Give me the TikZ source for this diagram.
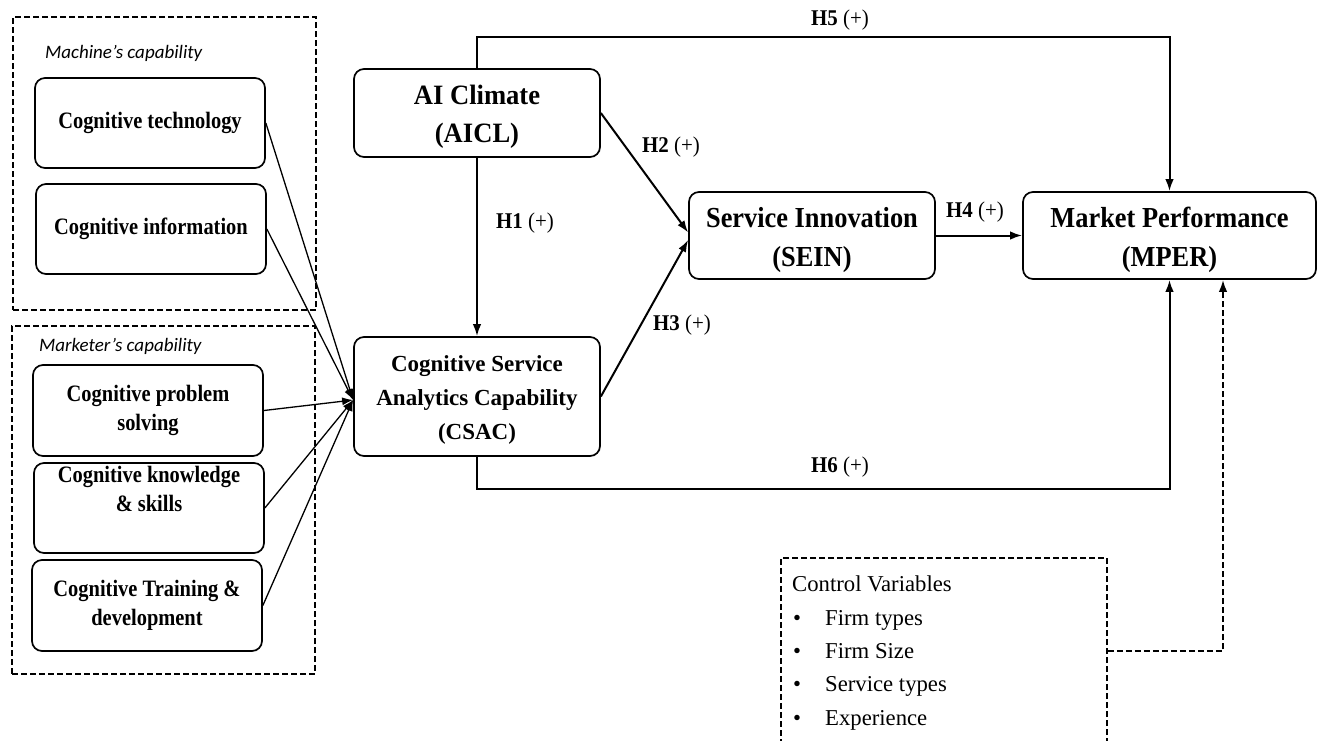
\documentclass[tikz,border=0pt]{standalone}
\usepackage{fontspec}
\setmainfont{Liberation Serif}
\newfontfamily\leftfont[FakeStretch=0.87]{Liberation Serif}
\newfontfamily\bigfont[FakeStretch=0.91]{Liberation Serif}
\newfontfamily\aiclfont[FakeStretch=0.95]{Liberation Serif}
\newfontfamily\hfont[FakeStretch=0.93]{Liberation Serif}
\newfontfamily\capfont{Carlito}
\usetikzlibrary{arrows.meta}
\begin{document}
\begin{tikzpicture}[x=1pt,y=-1pt,
  rbox/.style={draw, rounded corners=10pt, line width=1.7pt, inner sep=0pt, align=center},
  txt/.style={inner sep=0pt, align=center},
  leftbox/.style={rbox, minimum width=230pt, minimum height=90pt, font=\leftfont\bfseries\fontsize{23.5}{29.5}\selectfont},
  grpbox/.style={draw, line width=1.9pt, dash pattern=on 6pt off 3pt, inner sep=0pt},
  conn/.style={line width=2pt, -{Latex[length=12pt,width=8.5pt]}},
  fanline/.style={line width=1.3pt, -{Latex[length=11pt,width=8pt]}},
  hlab/.style={font=\hfont\fontsize{22.5}{25}\selectfont, inner sep=0pt},
  grplab/.style={font=\capfont\itshape\fontsize{19}{23}\selectfont, anchor=base west, inner sep=0pt}
]
\path[use as bounding box, clip] (0,0) rectangle (1325,740);
\fill[white] (0,0) rectangle (1325,740);

% group boxes
\node[grpbox, minimum width=303pt, minimum height=293pt] (mach) at (164.5,163.5) {};
\node[grplab] (machlab) at (45,58) {Machine’s capability};
\node[grpbox, minimum width=303pt, minimum height=348pt] (mark) at (163.5,500) {};
\node[grplab] (marklab) at (39,351) {Marketer’s capability};

% left boxes
\node[leftbox] (tech) at (150,123) {Cognitive technology};
\node[leftbox] (info) at (151,229) {Cognitive information};
\node[leftbox, minimum height=91pt] (prob) at (148,410.5) {Cognitive problem\\solving};
\node[leftbox] (know) at (149,508) {Cognitive knowledge\\\& skills\\\strut};
\node[leftbox, minimum height=91pt] (train) at (147,605.5) {Cognitive Training \&\\development};

% main constructs
\node[rbox, minimum width=246pt, minimum height=88pt] (aicl) at (477,113) {};
\node[txt, font=\aiclfont\bfseries\fontsize{28}{38}\selectfont] (aicltxt) at (477,117) {AI Climate\\(AICL)};
\node[rbox, minimum width=246pt, minimum height=119pt] (csac) at (477,396.5) {};
\node[txt, font=\bfseries\fontsize{23}{34}\selectfont] (csactxt) at (477,400) {Cognitive Service\\Analytics Capability\\(CSAC)};
\node[rbox, minimum width=246pt, minimum height=87pt] (sein) at (812,235.5) {};
\node[txt, font=\bigfont\bfseries\fontsize{29}{39}\selectfont] (seintxt) at (812,240) {Service Innovation\\(SEIN)};
\node[rbox, minimum width=293pt, minimum height=87pt] (mper) at (1169.5,235.5) {};
\node[txt, font=\bigfont\bfseries\fontsize{29}{39}\selectfont] (mpertxt) at (1169.5,240) {Market Performance\\(MPER)};

% control variables
\node[grpbox, minimum width=326pt, minimum height=202pt] (ctrl) at (944,659) {};
\node[anchor=north west, inner sep=0pt, align=left, font=\fontsize{22.7}{33.3}\selectfont] (ctrltxt) at (792,576)
  {Control Variables\\
   \makebox[33pt][l]{\hspace{1pt}\textbullet}Firm types\\
   \makebox[33pt][l]{\hspace{1pt}\textbullet}Firm Size\\
   \makebox[33pt][l]{\hspace{1pt}\textbullet}Service types\\
   \makebox[33pt][l]{\hspace{1pt}\textbullet}Experience};

% fan-in connectors
\coordinate (cin) at ([yshift=-3.5pt]csac.west);
\foreach \n in {tech,info,prob,know,train}
  \draw[fanline] (\n.east) -- (cin);

% hypotheses
\draw[conn] (aicl.south) -- (csac.north);
\draw[conn] (aicl.east) -- ([yshift=3pt]sein.west);
\draw[conn] (csac.east) -- ([yshift=-4.5pt]sein.west);
\draw[conn] (sein.east) -- (mper.west);
\draw[conn] (aicl.north) -- ++(0,-31) -| (mper.north);
\draw[conn] (csac.south) -- ++(0,32) -| (mper.south);
\draw[conn, dash pattern=on 6pt off 3pt] ([yshift=8pt]ctrl.east) -| ([xshift=53.5pt]mper.south);

% labels
\node[hlab] (h1) at (525,223) {\textbf{H1} (+)};
\node[hlab] (h2) at (671,147) {\textbf{H2} (+)};
\node[hlab] (h3) at (682,325) {\textbf{H3} (+)};
\node[hlab] (h4) at (975,212) {\textbf{H4} (+)};
\node[hlab] (h5) at (840,20) {\textbf{H5} (+)};
\node[hlab] (h6) at (840,467) {\textbf{H6} (+)};
\end{tikzpicture}
\end{document}
